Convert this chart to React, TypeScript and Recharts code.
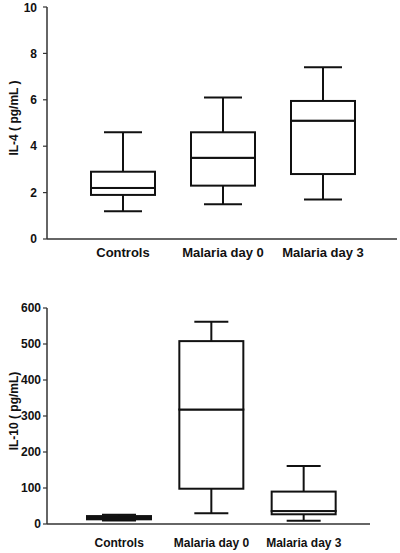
import { Bar, ComposedChart, XAxis, YAxis } from 'recharts';

const categories = ['Controls', 'Malaria day 0', 'Malaria day 3'];

// IL-4 (pg/mL)
const il4Min = [1.2, 1.5, 1.7];
const il4Q1 = [1.9, 2.3, 2.8];
const il4Median = [2.2, 3.5, 5.1];
const il4Q3 = [2.9, 4.6, 5.95];
const il4Max = [4.6, 6.1, 7.4];
const il4Ticks = [0, 2, 4, 6, 8, 10];

// IL-10 (pg/mL)
const il10Min = [10, 30, 9];
const il10Q1 = [13, 98, 27];
const il10Median = [17, 318, 36];
const il10Q3 = [22, 508, 90];
const il10Max = [26, 562, 161];
const il10Ticks = [0, 100, 200, 300, 400, 500, 600];

const FONT = '"Liberation Sans", Arial, sans-serif';
const INK = '#111';

function buildRows(min: number[], q1: number[], med: number[], q3: number[], max: number[]) {
  return categories.map((name, i) => ({
    name,
    base: min[i],
    lowWhisker: q1[i] - min[i],
    lowBox: med[i] - q1[i],
    highBox: q3[i] - med[i],
    highWhisker: max[i] - q3[i],
  }));
}

const makeWhisker = (capWidth: number, capAtTop: boolean) => (props: any) => {
  const { x, y, width, height } = props;
  const cx = x + width / 2;
  const capY = capAtTop ? y : y + height;
  return (
    <g>
      <line x1={cx} x2={cx} y1={y} y2={y + height} stroke={INK} strokeWidth={2} />
      <line x1={cx - capWidth / 2} x2={cx + capWidth / 2} y1={capY} y2={capY} stroke={INK} strokeWidth={2} />
    </g>
  );
};

const BoxPart = (props: any) => {
  const { x, y, width, height } = props;
  return <rect x={x} y={y} width={width} height={height} fill="#fff" stroke={INK} strokeWidth={2} />;
};

function AxisTitle({ viewBox, value }: any) {
  const cx = 14;
  const cy = viewBox.y + viewBox.height / 2 - 5;
  return (
    <text
      x={cx}
      y={cy}
      transform={`rotate(-90, ${cx}, ${cy})`}
      textAnchor="middle"
      dominantBaseline="central"
      fontFamily={FONT}
      fontWeight="bold"
      fontSize={12}
      fill={INK}
    >
      {value}
    </text>
  );
}

interface BoxChartProps {
  rows: ReturnType<typeof buildRows>;
  height: number;
  margin: { top: number; right: number; bottom: number; left: number };
  xHeight: number;
  domain: [number, number];
  ticks: number[];
  title: string;
  padding: { left: number; right: number };
  xFontSize: number;
  xTickMargin: number;
  yTickMargin: number;
  capWidth: number;
}

function BoxChart(p: BoxChartProps) {
  return (
    <ComposedChart width={400} height={p.height} data={p.rows} margin={p.margin} barSize={64}>
      <XAxis
        dataKey="name"
        height={p.xHeight}
        padding={p.padding}
        tickLine={false}
        tickSize={0}
        tickMargin={p.xTickMargin}
        axisLine={{ stroke: '#333', strokeWidth: 1.5 }}
        tick={{ fill: INK, fontFamily: FONT, fontWeight: 'bold', fontSize: p.xFontSize }}
        interval={0}
      />
      <YAxis
        width={47}
        domain={p.domain}
        ticks={p.ticks}
        tickSize={4}
        tickMargin={p.yTickMargin}
        tickLine={{ stroke: '#333', strokeWidth: 1.2 }}
        axisLine={{ stroke: '#333', strokeWidth: 1.5 }}
        tick={{ fill: INK, fontFamily: FONT, fontWeight: 'bold', fontSize: 12 }}
        label={<AxisTitle value={p.title} />}
        allowDataOverflow
      />
      <Bar dataKey="base" stackId="b" fill="none" isAnimationActive={false} />
      <Bar dataKey="lowWhisker" stackId="b" shape={makeWhisker(p.capWidth, false)} isAnimationActive={false} />
      <Bar dataKey="lowBox" stackId="b" shape={BoxPart} isAnimationActive={false} />
      <Bar dataKey="highBox" stackId="b" shape={BoxPart} isAnimationActive={false} />
      <Bar dataKey="highWhisker" stackId="b" shape={makeWhisker(p.capWidth, true)} isAnimationActive={false} />
    </ComposedChart>
  );
}

export default function App() {
  return (
    <div style={{ position: 'absolute', left: 0, top: 0, width: 400, height: 553, background: '#fff' }}>
      <BoxChart
        rows={buildRows(il4Min, il4Q1, il4Median, il4Q3, il4Max)}
        height={270}
        margin={{ top: 7, right: 3, bottom: 1, left: 0 }}
        xHeight={30}
        domain={[0, 10]}
        ticks={il4Ticks}
        title="IL-4 ( pg/mL )"
        padding={{ left: 26, right: 24 }}
        xFontSize={13}
        xTickMargin={9}
        yTickMargin={6}
        capWidth={38}
      />
      <BoxChart
        rows={buildRows(il10Min, il10Q1, il10Median, il10Q3, il10Max)}
        height={283}
        margin={{ top: 38, right: 30, bottom: 0, left: 0 }}
        xHeight={29}
        domain={[0, 600]}
        ticks={il10Ticks}
        title="IL-10 ( pg/mL)"
        padding={{ left: 26, right: 20 }}
        xFontSize={12}
        xTickMargin={14}
        yTickMargin={2}
        capWidth={34}
      />
    </div>
  );
}
